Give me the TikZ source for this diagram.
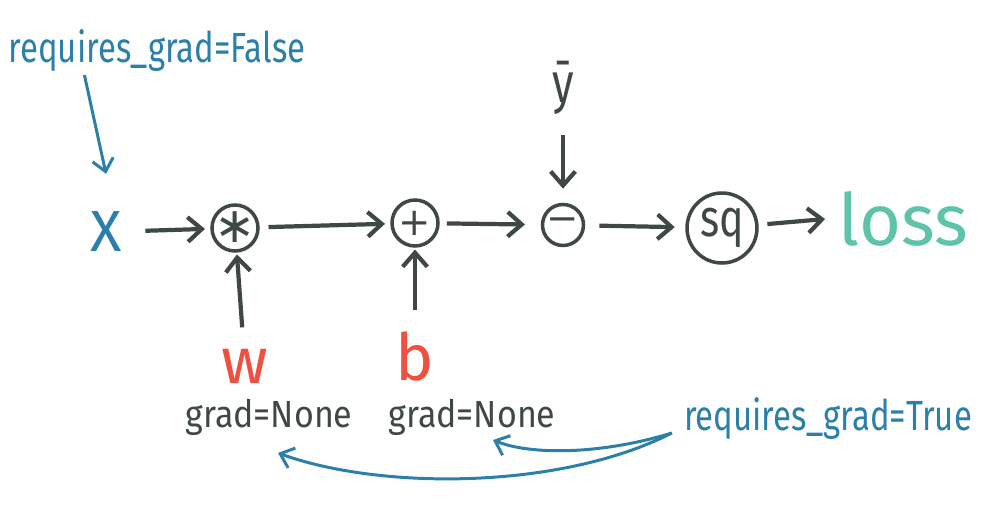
\documentclass[tikz,border=0pt]{standalone}
\usepackage{fontspec}
\setmainfont{Fira Sans}
\newfontfamily\narrowfont[FakeStretch=0.78]{Fira Sans}
\newfontfamily\gradfont[FakeStretch=0.9]{Fira Sans}
\newfontfamily\symbolfont{DejaVu Sans}
\usetikzlibrary{arrows.meta,calc}
\definecolor{ink}{HTML}{3F4846}
\definecolor{notecol}{HTML}{2B7FA8}
\definecolor{paramcol}{HTML}{F0503F}
\definecolor{losscol}{HTML}{5EC4A9}

\begin{document}
\begin{tikzpicture}[x=0.02cm, y=0.02cm,
  op/.style={circle, draw=ink, line width=2pt, text=ink, inner sep=0pt,
    minimum size=0.92cm, font=\symbolfont\fontsize{28}{28}\selectfont},
  flow/.style={ink, line width=2.4pt, shorten <=5pt, shorten >=3pt,
    -{Straight Barb[length=8pt, width=14pt]}},
  note/.style={notecol, line width=1.7pt,
    -{Straight Barb[length=7pt, width=12pt]}},
  notetext/.style={text=notecol, anchor=base, font=\narrowfont\fontsize{24}{24}\selectfont},
  gradtext/.style={text=ink, anchor=base, inner sep=0pt, font=\gradfont\fontsize{21.5}{21.5}\selectfont},
  paramtext/.style={text=paramcol, anchor=base, inner sep=0pt, font=\fontsize{37}{37}\selectfont}]
\useasboundingbox (0,0) rectangle (992,-521);

% labels for the inputs
\node[notetext] (falseLbl) at (157,-62) {requires\_grad=False};
\node[notetext] (trueLbl) at (828,-430) {requires\_grad=True};

% forward graph
\node[text=notecol, font=\fontsize{33}{33}\selectfont] (x) at (106,-232) {X};
\node[op] (mul) at (235,-228)
  {\makebox[0pt]{\raisebox{-0.3em}[0pt][0pt]{∗}}};
\node[op, font=\symbolfont\fontsize{22}{22}\selectfont] (add) at (415,-223) {+};
\node[op, minimum size=0.82cm, font=\symbolfont\fontsize{22}{22}\selectfont] (sub) at (563,-225) {−};
\node[op, minimum size=1.4cm, font=\narrowfont\fontsize{30}{30}\selectfont] (sq) at (722,-228) {sq};
\node[text=losscol, anchor=base, font=\fontsize{41}{41}\selectfont] (loss) at (903,-245) {loss};
\node[text=ink, font=\narrowfont\fontsize{32}{32}\selectfont] (ybar) at (563,-88) {ȳ};

% parameters
\node[paramtext] (w) at (245,-383) {w};
\node[paramtext] (b) at (415,-380) {b};
\node[gradtext] (gradW) at (269,-427) {grad=None};
\node[gradtext] (gradB) at (472,-427) {grad=None};

% connectors
\draw[flow, shorten <=10pt] (x) -- (mul);
\draw[flow] (mul) -- (add);
\draw[flow, shorten <=4pt, shorten >=9pt] (add) -- (sub);
\draw[flow, shorten <=8pt, shorten >=6pt] (sub) -- (sq);
\draw[flow, shorten >=4pt] (sq) -- (loss.west);
\draw[flow, shorten <=8pt, shorten >=8pt] (ybar) -- (sub);
\draw[flow, shorten <=12pt, shorten >=1pt] (w) -- (mul);
\draw[flow, shorten <=12pt, shorten >=1pt] (b) -- (add);

\draw[note] ($(falseLbl.base west)+(82,-13)$) -- ($(x.north)+(0,32)$);
\draw[note] ($(trueLbl.base west)+(-6,-3)$) .. controls (600,-455) and (530,-455) .. ($(gradB.base)+(21,-13)$);
\draw[note] ($(trueLbl.base west)+(-6,-3)$) .. controls (560,-490) and (380,-490) .. ($(gradW.base)+(9,-26)$);
\end{tikzpicture}
\end{document}
